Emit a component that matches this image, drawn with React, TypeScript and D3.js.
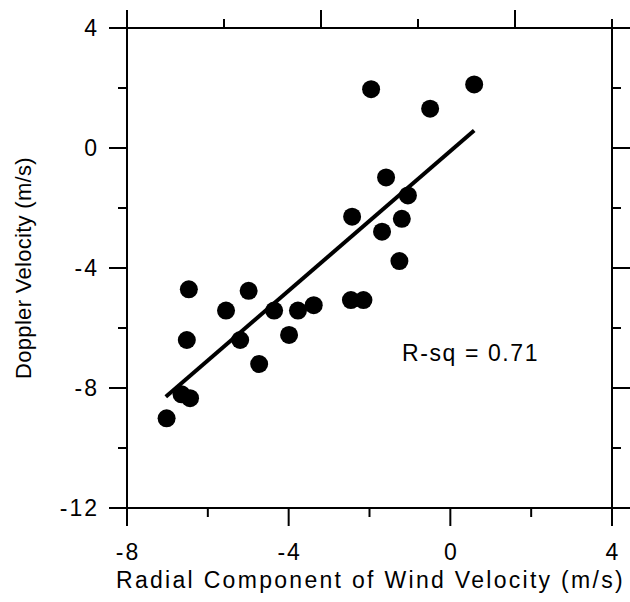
import React from "react";
import * as d3 from "d3";

const pointsX = [-6.47, -6.52, -5.55, -4.99, -5.20, -4.73, -4.36, -3.99, -3.77, -3.38, -7.02, -6.65, -6.44,
  -1.96, 0.59, -0.50, -1.59, -1.05, -2.43, -1.20, -1.69, -1.26, -2.46, -2.15];
const pointsY = [-4.71, -6.40, -5.42, -4.76, -6.40, -7.20, -5.42, -6.23, -5.42, -5.24, -9.01, -8.21, -8.34,
  1.96, 2.12, 1.31, -0.98, -1.58, -2.29, -2.36, -2.79, -3.77, -5.07, -5.07];
const fitX = [-7.04, 0.59];
const fitY = [-8.29, 0.58];
const xMajor = [-8, -4, 0, 4];
const xMinor = [-6, -2, 2];
const yMajor = [4, 0, -4, -8, -12];
const yMinor = [2, -2, -6, -10];
const topMajor = [0, 2, 4];
const topMinor = [1, 3, 5];
const rsqLabel = "R-sq = 0.71";
const xTitle = "Radial Component of Wind Velocity (m/s)";
const yTitle = "Doppler Velocity (m/s)";

export default function App() {
  const W = 630, H = 602;
  const L = 127, R = 612, T = 28, B = 508;
  const x = d3.scaleLinear().domain([-8, 4]).range([L, R]);
  const y = d3.scaleLinear().domain([-12, 4]).range([B, T]);
  const xTop = d3.scaleLinear().domain([0, 5]).range([L, R]);
  const font = "'Liberation Sans', Arial, sans-serif";
  const big = 18, small = 9;
  const line = d3.line<number>().x((_, i) => x(fitX[i])).y((_, i) => y(fitY[i]));
  const sw = 2;
  return (
    <div style={{ position: "absolute", left: 0, top: 0 }}>
      <svg width={W} height={H} style={{ display: "block", background: "#fff" }}>
        <g stroke="#000" strokeWidth={sw} fill="none">
          <rect x={L} y={T} width={R - L} height={B - T} />
          {yMajor.map((v) => (
            <g key={"ym" + v}>
              <line x1={L - big} x2={L} y1={y(v)} y2={y(v)} />
              <line x1={R} x2={R + big} y1={y(v)} y2={y(v)} />
            </g>
          ))}
          {yMinor.map((v) => (
            <g key={"yn" + v}>
              <line x1={L - small} x2={L} y1={y(v)} y2={y(v)} />
              <line x1={R} x2={R + small} y1={y(v)} y2={y(v)} />
            </g>
          ))}
          {xMajor.map((v) => (
            <line key={"xm" + v} x1={x(v)} x2={x(v)} y1={B} y2={B + big} />
          ))}
          {xMinor.map((v) => (
            <line key={"xn" + v} x1={x(v)} x2={x(v)} y1={B} y2={B + small} />
          ))}
          {topMajor.map((v) => (
            <line key={"tm" + v} x1={xTop(v)} x2={xTop(v)} y1={T} y2={T - big} />
          ))}
          {topMinor.map((v) => (
            <line key={"tn" + v} x1={xTop(v)} x2={xTop(v)} y1={T} y2={T - small} />
          ))}
        </g>
        <path d={line(fitX) || ""} stroke="#000" strokeWidth={4} fill="none" />
        {pointsX.map((v, i) => (
          <circle key={"p" + i} cx={x(v)} cy={y(pointsY[i])} r={9} fill="#000" />
        ))}
        <g fontFamily={font} fill="#000">
          {yMajor.map((v) => (
            <text key={"yl" + v} x={L - 28} y={y(v)} dy="0.36em" textAnchor="end" fontSize={23} letterSpacing={2}>{v}</text>
          ))}
          {xMajor.map((v) => (
            <text key={"xl" + v} x={x(v) + 1} y={B + 52} textAnchor="middle" fontSize={23} letterSpacing={2}>{v}</text>
          ))}
          <text x={(L + R) / 2 + 1} y={588} textAnchor="middle" fontSize={23} letterSpacing={2.3}>{xTitle}</text>
          <text transform={`translate(31,${(T + B) / 2}) rotate(-90)`} textAnchor="middle" fontSize={22} letterSpacing={0.3}>{yTitle}</text>
          <text x={402} y={361} fontSize={23} letterSpacing={1.6}>{rsqLabel}</text>
        </g>
      </svg>
    </div>
  );
}
